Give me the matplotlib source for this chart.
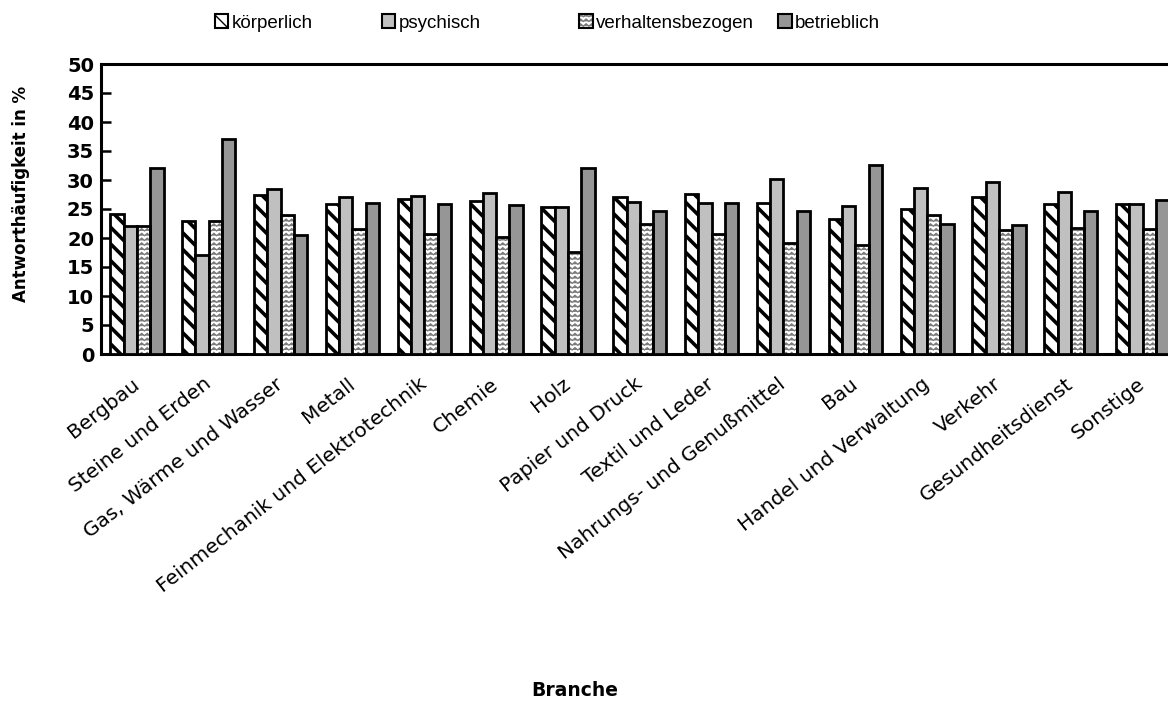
import warnings
import numpy as np
import matplotlib
matplotlib.use("Agg")
import matplotlib.pyplot as plt
import matplotlib.hatch as mhatch
from matplotlib.path import Path
from matplotlib.patches import Patch
from matplotlib.legend_handler import HandlerTuple

warnings.filterwarnings("ignore")

branchen = ["Bergbau", "Steine und Erden", "Gas, Wärme und Wasser", "Metall",
            "Feinmechanik und Elektrotechnik", "Chemie", "Holz", "Papier und Druck",
            "Textil und Leder", "Nahrungs- und Genußmittel", "Bau",
            "Handel und Verwaltung", "Verkehr", "Gesundheitsdienst", "Sonstige"]
koerperlich = [24.1, 22.9, 27.4, 25.8, 26.7, 26.4, 25.3, 27.0, 27.6, 26.1, 23.2, 25.0, 27.0, 25.8, 25.9]
psychisch = [22.0, 17.1, 28.5, 27.1, 27.2, 27.7, 25.3, 26.2, 26.0, 30.2, 25.5, 28.6, 29.7, 27.9, 25.9]
verhaltensbezogen = [22.0, 22.9, 24.0, 21.6, 20.7, 20.2, 17.6, 22.5, 20.7, 19.2, 18.8, 24.0, 21.4, 21.7, 21.6]
betrieblich = [32.1, 37.1, 20.6, 26.0, 25.9, 25.7, 32.0, 24.7, 26.0, 24.7, 32.6, 22.5, 22.2, 24.7, 26.6]
serien = ["körperlich", "psychisch", "verhaltensbezogen", "betrieblich"]
y_ticks = [0, 5, 10, 15, 20, 25, 30, 35, 40, 45, 50]


class ZigzagHatch(mhatch.HatchPatternBase):
    """Horizontal zigzag rows, triggered by the 'z' hatch character."""
    def __init__(self, hatch, density):
        n = hatch.count('z')
        self.rows = int(n * density * 3.5)
        self.teeth = int(n * density * 3.0)
        self.pts = self.teeth * 2 + 1
        self.num_vertices = self.rows * self.pts if n else 0

    def set_vertices_and_codes(self, vertices, codes):
        ys = (np.arange(self.rows) + 0.5) / self.rows
        amp = 0.5 / self.rows
        xs = np.linspace(0, 1, self.pts)
        off = np.tile([0.0, amp], self.teeth + 1)[:self.pts]
        for i, y in enumerate(ys):
            s = i * self.pts
            vertices[s:s + self.pts, 0] = xs
            vertices[s:s + self.pts, 1] = y + off
            codes[s] = Path.MOVETO
            codes[s + 1:s + self.pts] = Path.LINETO


mhatch._hatch_types.append(ZigzagHatch)

plt.rcParams['font.family'] = ['Liberation Sans', 'DejaVu Sans']

W, H = 1168, 704
fig = plt.figure(figsize=(W / 100, H / 100), dpi=100)
left_px, right_px, top_px, bottom_px = 101, 1178.6, 64, 354
ax = fig.add_axes([left_px / W, 1 - bottom_px / H, (right_px - left_px) / W, (bottom_px - top_px) / H])

x = np.arange(len(branchen))
bw = 0.185
offsets = (np.arange(4) - 1.5) * bw
lw = 2.0

def set_hlw(bars, v):
    for b in bars:
        if hasattr(b, "set_hatch_linewidth"):
            b.set_hatch_linewidth(v)

with plt.rc_context({'hatch.linewidth': 2.6}):
    b1 = ax.bar(x + offsets[0], koerperlich, bw, facecolor='white', edgecolor='black',
                hatch='\\\\', linewidth=lw, zorder=3)
set_hlw(b1, 2.6)
b2 = ax.bar(x + offsets[1], psychisch, bw, facecolor='#c0c0c0', edgecolor='black',
            linewidth=lw, zorder=3)
with plt.rc_context({'hatch.linewidth': 0.9}):
    b3h = ax.bar(x + offsets[2], verhaltensbezogen, bw, facecolor='white', edgecolor='#7a7a7a',
                 hatch='z', linewidth=0, zorder=3)
set_hlw(b3h, 0.9)
b3 = ax.bar(x + offsets[2], verhaltensbezogen, bw, fill=False, edgecolor='black',
            linewidth=lw, zorder=4)
b4 = ax.bar(x + offsets[3], betrieblich, bw, facecolor='#969696', edgecolor='black',
            linewidth=lw, zorder=3)

ax.set_xlim(-0.5, 14.5)
ax.set_ylim(0, 50)
ax.set_yticks(y_ticks)
ax.set_yticklabels([str(t) for t in y_ticks], fontsize=14, fontweight='bold', family='DejaVu Sans')
ax.tick_params(axis='y', direction='in', length=7, width=1.8, pad=5)
ax.set_xticks(x)
ax.set_xticklabels(branchen, rotation=38, ha='right', va='center', rotation_mode='anchor',
                   fontsize=14.5, family='DejaVu Sans')
ax.tick_params(axis='x', length=0, pad=20)
for s in ax.spines.values():
    s.set_linewidth(2.2)
ax.spines['right'].set_visible(False)

fig.text(21 / W, 1 - 194 / H, "Antworthäufigkeit in %", rotation=90, ha='center', va='center',
         fontsize=12, fontweight='bold', family='DejaVu Sans')
fig.text(575 / W, 1 - 691 / H, "Branche", ha='center', va='center', fontsize=13.5,
         fontweight='bold', family='DejaVu Sans')

# legend entries
h1 = Patch(facecolor='white', edgecolor='black', hatch='\\\\', linewidth=1.5)
h2 = Patch(facecolor='#c0c0c0', edgecolor='black', linewidth=1.5)
h3 = (Patch(facecolor='white', edgecolor='#7a7a7a', hatch='z', linewidth=0),
      Patch(fill=False, edgecolor='black', linewidth=1.5))
h4 = Patch(facecolor='#969696', edgecolor='black', linewidth=1.5)
handles = [h1, h2, h3, h4]
lx = [215, 382, 579, 778]
for hh, lab, xx in zip(handles, serien, lx):
    fig.legend([hh], [lab], loc='center left', bbox_to_anchor=(xx / W, 1 - 23 / H),
               frameon=False, fontsize=13.5, handlelength=0.72, handleheight=0.72,
               handletextpad=0.2, borderpad=0, borderaxespad=0,
               handler_map={tuple: HandlerTuple(ndivide=1, pad=0)})

fig.savefig("out.png", dpi=100)
